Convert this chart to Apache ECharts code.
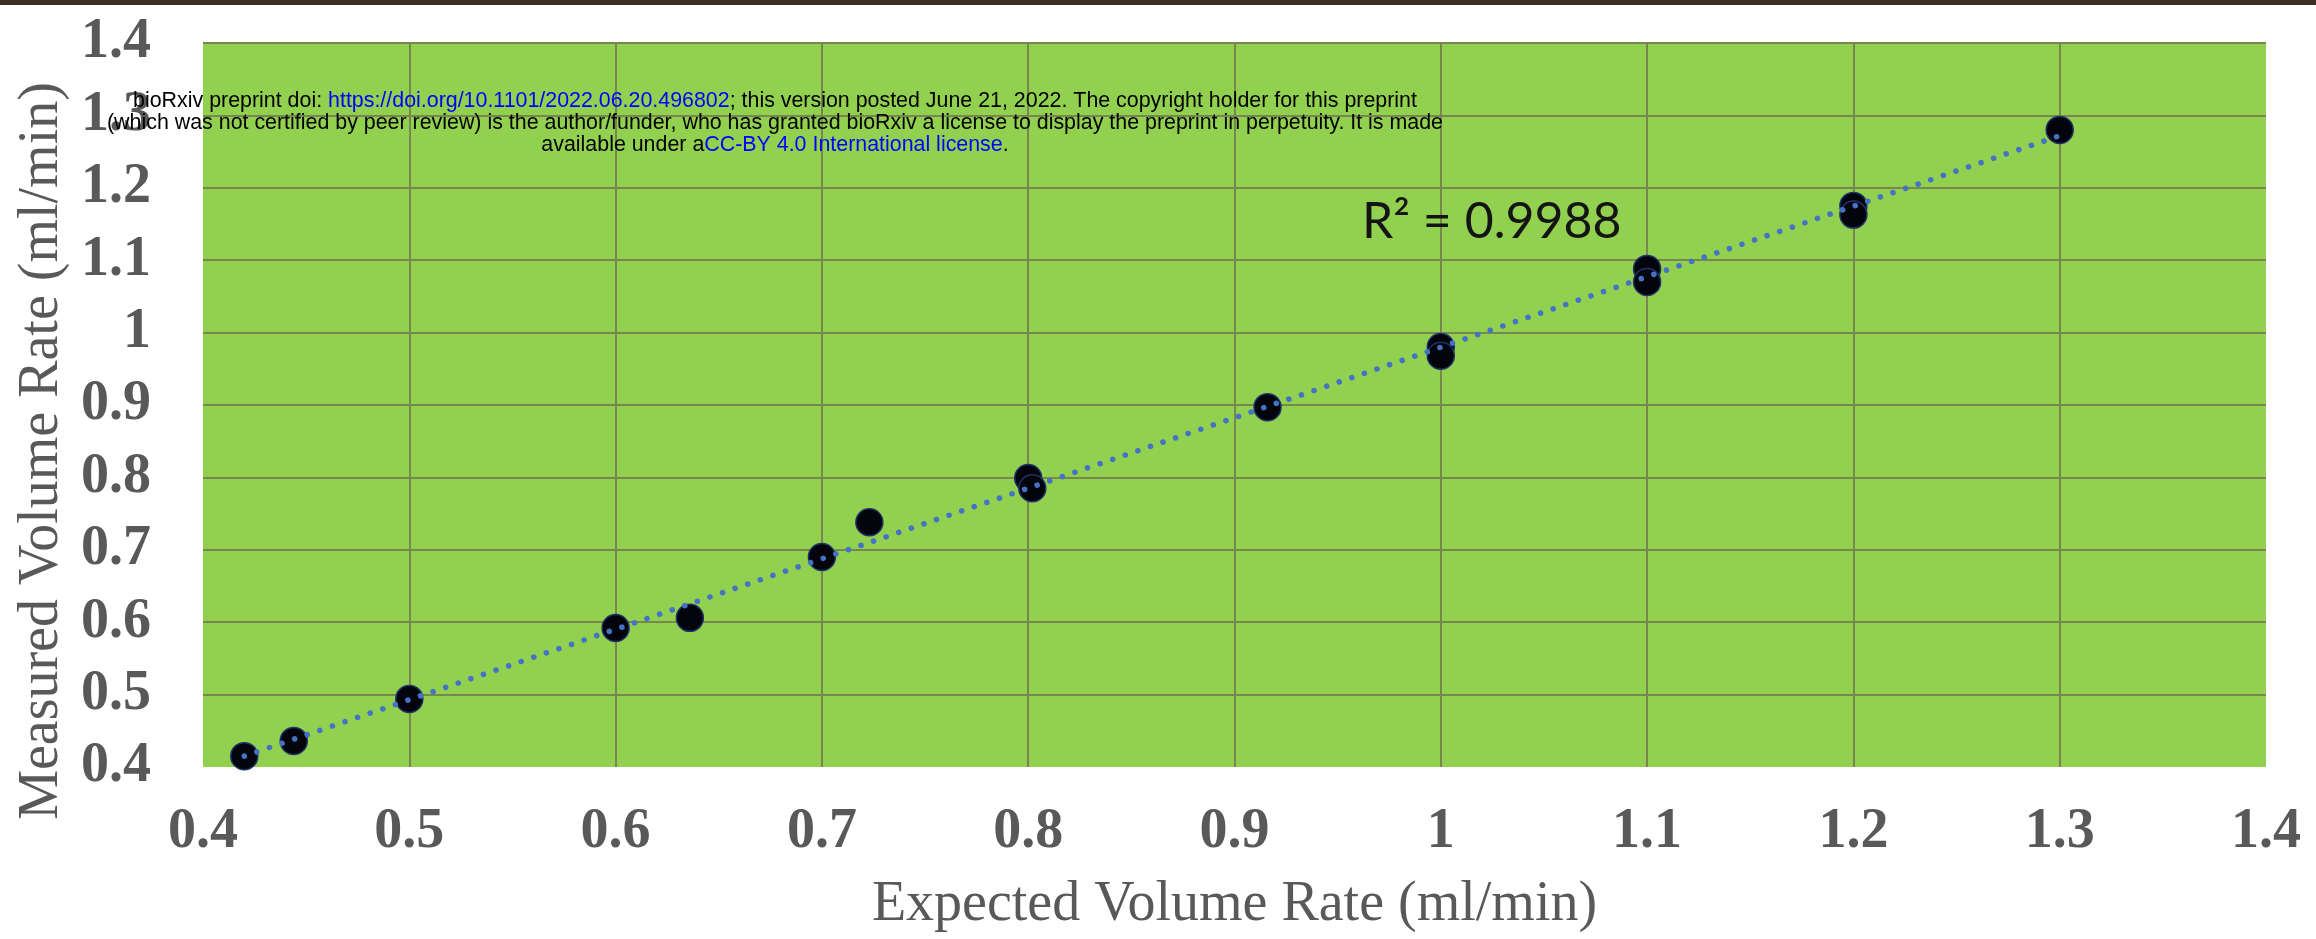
<!DOCTYPE html>
<html>
<head>
<meta charset="utf-8">
<script src="https://cdn.jsdelivr.net/npm/echarts@6/dist/echarts.min.js"></script>
<style>
html,body{margin:0;padding:0;background:#fff;}
#main{width:2316px;height:939px;}
</style>
</head>
<body>
<div id="main"></div>
<script>
// 数据：预期流量 vs 实测流量 (ml/min)
var expected = [0.42, 0.444, 0.5, 0.6, 0.636, 0.7, 0.723, 0.8, 0.802, 0.916, 1.0, 1.0, 1.1, 1.1, 1.2, 1.2, 1.3];
var measured = [0.415, 0.436, 0.494, 0.592, 0.606, 0.690, 0.738, 0.799, 0.785, 0.897, 0.980, 0.968, 1.088, 1.070, 1.175, 1.163, 1.280];
// 趋势线两端
var trendX = [0.42, 1.3];
var trendY = [0.415, 1.272];
// 坐标轴刻度
var axisTicks = [0.4, 0.5, 0.6, 0.7, 0.8, 0.9, 1.0, 1.1, 1.2, 1.3, 1.4];
var r2Text = 'R² = 0.9988';

var grayText = '#595959';
var gridColor = '#77874f';
var noteFont = '21.4px "Liberation Sans"';

function drawChart(){
	var myChart = echarts.init(document.getElementById('main'));
	var points = [];
	for (var i = 0; i < expected.length; i++) {
		points.push([expected[i], measured[i]]);
	}
	var trend = [[trendX[0], trendY[0]], [trendX[1], trendY[1]]];
	var tickStep = Math.round((axisTicks[1] - axisTicks[0]) * 10) / 10;

	var labelStyle = {
		fontFamily: 'Liberation Serif',
		fontWeight: 'bold',
		fontSize: 56,
		color: grayText
	};

	option = {
		animation: false,
		grid: {
			left: 203, right: 50, top: 43, bottom: 172,
			show: true,
			backgroundColor: '#92d050',
			borderWidth: 0,
			containLabel: false,
			outerBoundsMode: 'none'
		},
		xAxis: {
			type: 'value',
			min: axisTicks[0],
			max: axisTicks[axisTicks.length - 1],
			interval: tickStep,
			axisLine: {show: false},
			axisTick: {show: false},
			splitLine: {show: true, showMinLine: false, showMaxLine: false, lineStyle: {color: gridColor, width: 2}},
			axisLabel: Object.assign({margin: 38}, labelStyle),
			name: 'Expected Volume Rate (ml/min)',
			nameLocation: 'middle',
			nameGap: 110,
			nameTextStyle: {fontFamily: 'Liberation Serif', fontSize: 56, color: grayText}
		},
		yAxis: {
			type: 'value',
			min: axisTicks[0],
			max: axisTicks[axisTicks.length - 1],
			interval: tickStep,
			axisLine: {show: false},
			axisTick: {show: false},
			splitLine: {show: true, showMinLine: false, lineStyle: {color: gridColor, width: 2}},
			axisLabel: Object.assign({margin: 52}, labelStyle)
		},
		graphic: [
			{type: 'rect', left: 0, top: 0, shape: {width: 2316, height: 5}, style: {fill: '#3d2c22'}},
			{
				type: 'text', x: 42, y: 451, rotation: Math.PI / 2,
				style: {
					text: 'Measured Volume Rate (ml/min)',
					font: '56px "Liberation Serif"',
					fill: grayText, align: 'center', verticalAlign: 'middle'
				}
			},
			{
				type: 'text', x: 1362, y: 222, z: 10,
				style: {
					text: r2Text, font: '50px Lato', fill: '#141414',
					align: 'left', verticalAlign: 'middle'
				}
			},
			{
				type: 'text', x: 775, y: 101, z: 20,
				style: {
					text: '{k|bioRxiv preprint doi: }{u|https://doi.org/10.1101/2022.06.20.496802}{k|; this version posted June 21, 2022. The copyright holder for this preprint}',
					align: 'center', verticalAlign: 'middle',
					rich: {
						k: {font: noteFont, fill: '#000'},
						u: {font: noteFont, fill: '#0000ff'}
					}
				}
			},
			{
				type: 'text', x: 775, y: 123, z: 20,
				style: {
					text: '(which was not certified by peer review) is the author/funder, who has granted bioRxiv a license to display the preprint in perpetuity. It is made',
					font: noteFont, fill: '#000',
					align: 'center', verticalAlign: 'middle'
				}
			},
			{
				type: 'text', x: 775, y: 145, z: 20,
				style: {
					text: '{k|available under a}{u|CC-BY 4.0 International license}{k|.}',
					align: 'center', verticalAlign: 'middle',
					rich: {
						k: {font: noteFont, fill: '#000'},
						u: {font: noteFont, fill: '#0000ff'}
					}
				}
			}
		],
		series: [
			{
				name: 'Measured',
				type: 'scatter',
				data: points,
				symbol: 'circle',
				symbolSize: 27,
				z: 2,
				itemStyle: {color: '#03040c', borderColor: '#1e3266', borderWidth: 1.5, opacity: 1}
			},
			{
				name: 'Trend',
				type: 'line',
				data: trend,
				showSymbol: false,
				symbol: 'none',
				z: 3,
				lineStyle: {color: '#4472c4', width: 5.5, type: [0.1, 13.2], cap: 'round', opacity: 1}
			}
		]
	};
	myChart.setOption(option);
}

drawChart();
</script>
</body>
</html>
